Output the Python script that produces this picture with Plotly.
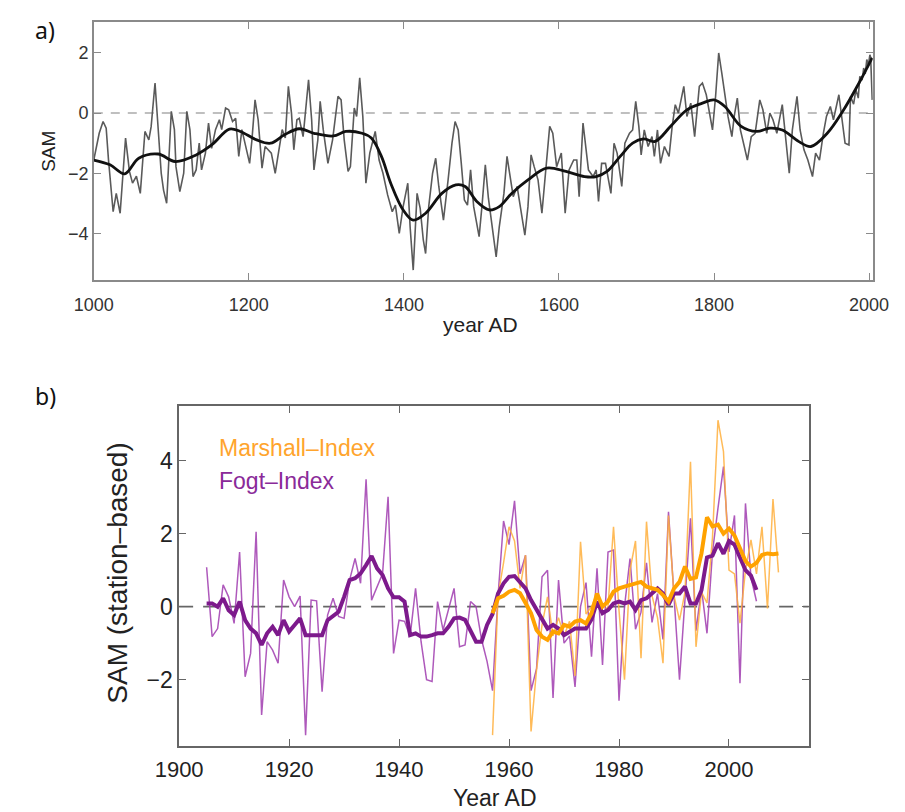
import plotly.graph_objects as go

# ---------------- Panel a data: SAM reconstruction ----------------
a_years = [1000,1007,1012,1016,1019,1025,1029,1034,1041,1046,1050,1055,1060,1066,1071,1074,1079,1083,1087,1090,
           1094,1100,1104,1106,1111,1116,1120,1124,1128,1132,1136,1139,1144,1148,1152,1157,1162,1165,1170,1174,
           1179,1183,1187,1191,1196,1201,1204,1208,1212,1217,1221,1225,1229,1234,1239,1243,1247,1251,1255,1258,
           1262,1265,1270,1277,1281,1284,1289,1292,1296,1302,1308,1315,1319,1323,1328,1331,1336,1339,1343,1347,
           1351,1356,1363,1368,1373,1379,1385,1389,1394,1399,1405,1408,1412,1417,1421,1425,1428,1432,1437,1441,
           1445,1451,1457,1462,1466,1470,1474,1478,1482,1486,1490,1497,1501,1505,1509,1514,1519,1523,1529,1533,
           1537,1541,1546,1551,1556,1560,1564,1568,1573,1578,1582,1588,1592,1597,1603,1608,1613,1619,1623,1626,
           1631,1635,1638,1644,1648,1651,1655,1660,1664,1667,1671,1675,1681,1685,1691,1695,1699,1703,1706,1710,
           1715,1720,1723,1727,1731,1736,1742,1746,1750,1754,1761,1765,1770,1775,1781,1785,1790,1793,1798,1802,
           1806,1810,1814,1818,1823,1826,1830,1834,1839,1843,1848,1853,1859,1863,1868,1872,1876,1881,1888,1892,
           1897,1901,1907,1911,1916,1921,1927,1931,1936,1941,1945,1950,1954,1961,1965,1969,1974,1976,1980,1983,
           1986,1988,1991,1993,1995,1997,1999,2001,2002,2004]
a_values = [-1.56,-0.67,-0.28,-0.5,-1.56,-3.28,-2.67,-3.33,-0.83,-1.94,-2.33,-2.1,-2.67,-0.61,-0.89,-0.45,1.0,-0.56,-2.0,-2.56,
            -3.0,0.06,-0.55,-1.78,-2.61,-2.0,0.06,-0.55,-2.11,-1.89,-1.0,-1.89,-1.33,-0.33,-1.17,-0.55,-0.22,-0.55,0.17,0.11,
            -0.28,-0.17,-1.44,-0.55,-1.17,-1.67,-0.89,0.44,-0.22,-1.83,-1.11,-1.22,-1.33,-2.0,-1.11,-0.55,-0.83,0.89,0.0,-1.22,
            -0.22,-0.17,-0.78,1.11,-0.22,-1.89,-0.89,0.39,-0.56,-1.67,-0.89,0.56,0.44,-0.89,-1.94,-1.78,0.17,-0.11,1.17,-0.11,
            -2.33,-1.33,-0.61,-1.56,-2.0,-2.72,-3.28,-3.06,-4.0,-3.11,-2.33,-3.78,-5.22,-2.67,-3.17,-4.22,-4.67,-3.11,-2.0,-1.5,
            -2.44,-3.56,-2.22,-1.0,-0.28,-0.56,-1.67,-2.89,-3.06,-1.89,-3.11,-4.11,-3.0,-1.72,-2.83,-3.78,-4.78,-3.78,-2.67,-1.44,
            -2.11,-2.78,-2.44,-3.22,-4.06,-3.11,-1.39,-1.78,-2.22,-3.33,-2.11,-0.44,-0.67,-1.78,-1.33,-3.33,-1.89,-1.56,-1.56,-2.78,
            -0.33,-1.33,-1.89,-2.11,-1.89,-2.94,-1.67,-1.67,-2.22,-2.67,-1.0,-1.33,-2.44,-1.0,-0.67,-0.56,0.39,-0.44,-1.39,-0.56,
            -1.11,-0.78,-1.44,-0.56,-1.67,-1.11,-1.44,-0.44,0.28,0.0,0.89,-0.11,0.33,-0.78,0.89,1.0,0.61,0.11,-0.56,0.56,
            2.0,1.33,0.61,-0.11,-0.78,-0.11,0.5,-0.56,-1.11,-1.56,-0.78,-0.67,0.44,0.11,-0.67,0.0,-0.22,-0.67,0.28,-0.78,
            -2.0,-0.56,0.56,-0.56,-1.22,-1.56,-2.11,-1.33,-1.56,-0.67,-0.11,0.22,-0.22,0.61,-0.22,-1.0,-1.06,0.55,0.3,0.78,
            0.5,1.22,1.1,1.5,1.3,1.78,1.6,1.94,1.85,0.44]

a_smooth_years = [1000,1021,1040,1058,1083,1105,1132,1152,1175,1189,1210,1228,1246,1265,1284,1309,1325,1346,1358,1371,
                  1383,1399,1412,1428,1449,1467,1479,1494,1510,1523,1539,1560,1584,1609,1633,1648,1662,1679,1695,1709,
                  1724,1744,1765,1785,1800,1814,1835,1855,1872,1888,1909,1925,1946,1966,1987,2004]
a_smooth_values = [-1.56,-1.72,-2.02,-1.5,-1.36,-1.61,-1.39,-1.06,-0.53,-0.61,-0.89,-1.0,-0.72,-0.52,-0.67,-0.76,-0.61,-0.67,-0.83,-1.44,
                   -2.33,-3.22,-3.56,-3.33,-2.67,-2.39,-2.44,-2.94,-3.22,-3.11,-2.67,-2.22,-1.83,-1.94,-2.11,-2.11,-1.94,-1.44,-1.0,-0.86,
                   -0.94,-0.44,0.11,0.33,0.44,0.22,-0.44,-0.61,-0.5,-0.56,-0.94,-1.11,-0.67,0.06,1.0,1.84]

a_xticks = [1000, 1200, 1400, 1600, 1800, 2000]
a_yticks = [-4, -2, 0, 2]

# ---------------- Panel b data: station-based SAM ----------------
fogt_years = list(range(1905, 2006))
fogt_values = [1.08,-0.82,-0.6,0.6,0.27,-0.46,1.5,-1.92,-1.28,2.05,
               -2.97,-0.96,-1.19,-1.55,0.73,0.27,0.0,0.29,-3.52,0.18,
               0.16,-2.33,-0.23,0.23,-0.27,-0.32,0.73,1.32,0.64,3.49,
               0.18,0.55,0.91,3.01,-1.28,-0.37,-0.4,-0.82,0.5,-0.96,
               -2.0,-2.05,0.14,-0.64,-0.05,0.5,-1.1,-1.05,0.14,0.0,
               -0.9,-1.5,-2.3,0.3,2.35,1.7,2.9,0.9,1.41,-2.3,
               -1.7,0.82,1.0,-2.5,0.73,-1.0,-0.8,-2.2,0.0,0.66,
               -1.37,1.05,-1.6,1.5,1.55,-2.58,0.0,1.32,-0.62,-0.15,
               1.2,-0.43,0.36,-0.9,2.6,0.4,-2.0,0.2,2.42,-0.66,
               0.5,-0.73,1.5,2.7,3.84,1.5,2.5,-2.1,2.83,0.8,
               0.15]
fogt_smooth = [0.09,0.09,0.0,0.23,-0.1,-0.23,0.14,-0.37,-0.6,-0.73,
               -1.05,-0.73,-0.55,-0.78,-0.37,-0.68,-0.5,-0.32,-0.78,-0.78,
               -0.78,-0.78,-0.37,-0.27,-0.14,0.27,0.73,0.78,0.91,1.14,
               1.39,1.05,0.87,0.5,0.26,0.26,0.14,-0.78,-0.73,-0.82,
               -0.82,-0.78,-0.73,-0.73,-0.55,-0.32,-0.3,-0.36,-0.64,-0.96,
               -0.96,-0.5,-0.2,0.36,0.64,0.82,0.84,0.68,0.5,0.18,
               -0.09,-0.37,-0.6,-0.5,-0.6,-0.78,-0.7,-0.6,-0.6,-0.6,
               -0.35,0.14,-0.18,-0.09,0.09,0.14,0.09,0.14,-0.09,0.18,
               0.23,0.36,0.5,0.36,0.05,0.36,0.36,0.55,0.09,0.09,
               0.45,1.35,1.4,1.74,1.45,1.8,1.7,1.35,1.0,0.85,
               0.46]

marshall_years = list(range(1957, 2010))
marshall_values = [-3.52,0.3,1.2,2.19,1.8,0.5,1.41,-3.42,-1.73,-0.5,
                   0.27,-0.8,-0.3,-0.8,-0.4,-1.9,1.78,-0.2,0.0,0.36,
                   -0.2,0.0,2.19,-0.1,-2.0,1.0,1.8,-1.41,2.33,0.3,
                   -0.3,-1.55,2.5,0.3,-0.37,0.4,3.97,-1.1,0.4,0.1,
                   1.9,5.11,4.25,1.0,0.9,-0.45,1.0,1.83,0.9,2.19,
                   -0.05,2.95,0.94]
marshall_smooth = [-0.18,0.23,0.3,0.41,0.46,0.37,0.1,-0.18,-0.64,-0.82,
                   -0.91,-0.68,-0.73,-0.5,-0.55,-0.41,-0.37,-0.46,-0.18,0.36,
                   0.0,0.14,0.41,0.5,0.55,0.6,0.64,0.68,0.55,0.5,
                   0.46,0.32,0.14,0.5,0.68,1.1,0.76,0.8,1.46,2.45,
                   2.2,2.25,2.0,2.14,1.95,1.6,1.25,1.1,1.2,1.42,
                   1.46,1.44,1.46]

b_xticks = [1900, 1920, 1940, 1960, 1980, 2000]
b_yticks = [-2, 0, 2, 4]

# ---------------- Figure ----------------
W, H = 905, 812
def px(x): return x / W
def py(y): return 1 - y / H

fig = go.Figure()

fig.add_trace(go.Scatter(x=a_years, y=a_values, mode="lines",
                         line=dict(color="#5a5a5a", width=1.6), xaxis="x", yaxis="y", showlegend=False))
fig.add_trace(go.Scatter(x=a_smooth_years, y=a_smooth_values, mode="lines", line_shape="spline",
                         line=dict(color="#111111", width=2.8), xaxis="x", yaxis="y", showlegend=False))

fig.add_trace(go.Scatter(x=fogt_years, y=fogt_values, mode="lines",
                         line=dict(color="rgba(160,60,175,0.85)", width=1.5), xaxis="x2", yaxis="y2", showlegend=False))
fig.add_trace(go.Scatter(x=marshall_years, y=marshall_values, mode="lines",
                         line=dict(color="rgba(255,175,60,0.85)", width=1.5), xaxis="x2", yaxis="y2", showlegend=False))
fig.add_trace(go.Scatter(x=fogt_years, y=fogt_smooth, mode="lines",
                         line=dict(color="#7d1a8c", width=4), xaxis="x2", yaxis="y2", showlegend=False))
fig.add_trace(go.Scatter(x=marshall_years, y=marshall_smooth, mode="lines",
                         line=dict(color="#ffa200", width=4), xaxis="x2", yaxis="y2", showlegend=False))

axis_common = dict(showgrid=False, zeroline=False, showline=True, mirror="ticks", ticks="inside")

fig.update_layout(
    width=W, height=H, margin=dict(l=0, r=0, t=0, b=0),
    paper_bgcolor="white", plot_bgcolor="white",
    xaxis=dict(**axis_common, domain=[px(73), px(888)], range=[1000, 2004.7], anchor="y",
               tickvals=a_xticks, linecolor="#8a8a8a", linewidth=1.5, tickcolor="#8a8a8a", ticklen=7,
               tickfont=dict(family="Liberation Sans, Arial", size=18, color="#333"), ticklabelstandoff=8),
    yaxis=dict(**axis_common, domain=[py(280), py(22)], range=[-5.55, 3.03], anchor="x",
               tickvals=a_yticks, linecolor="#8a8a8a", linewidth=1.5, tickcolor="#8a8a8a", ticklen=7,
               tickfont=dict(family="Liberation Sans, Arial", size=18, color="#333")),
    xaxis2=dict(**axis_common, domain=[px(162.3), px(821)], range=[1900, 2014.5], anchor="y2",
                tickvals=b_xticks, linecolor="#666", linewidth=1.5, tickcolor="#666", ticklen=7,
                tickfont=dict(family="Liberation Sans, Arial", size=22, color="#222"), ticklabelstandoff=3),
    yaxis2=dict(**axis_common, domain=[py(745.7), py(406)], range=[-3.81, 5.5], anchor="x2",
                tickvals=b_yticks, linecolor="#666", linewidth=1.5, tickcolor="#666", ticklen=7,
                tickfont=dict(family="Liberation Sans, Arial", size=23, color="#222")),
    shapes=[
        dict(type="line", xref="x domain", yref="y", x0=0, x1=1, y0=0, y1=0,
             line=dict(color="#aaaaaa", width=1.5, dash="9px,8px"), layer="below"),
        dict(type="line", xref="x2 domain", yref="y2", x0=0, x1=1, y0=0, y1=0,
             line=dict(color="#666666", width=1.8, dash="14px,10px"), layer="below"),
    ],
    annotations=[
        dict(text="a)", x=px(9), y=py(30), xref="paper", yref="paper", xanchor="left", yanchor="middle",
             showarrow=False, font=dict(family="Noto Sans", size=23, color="#111")),
        dict(text="b)", x=px(9), y=py(396), xref="paper", yref="paper", xanchor="left", yanchor="middle",
             showarrow=False, font=dict(family="Noto Sans", size=23, color="#111")),
        dict(text="SAM", x=px(26), y=py(151), xref="paper", yref="paper", xanchor="center", yanchor="middle",
             textangle=-90, showarrow=False, font=dict(family="Liberation Sans, Arial", size=19, color="#222")),
        dict(text="year AD", x=px(478), y=py(324), xref="paper", yref="paper", xanchor="center", yanchor="middle",
             showarrow=False, font=dict(family="Liberation Sans, Arial", size=21, color="#222")),
        dict(text="SAM (station–based)", x=px(97), y=py(573), xref="paper", yref="paper", xanchor="center",
             yanchor="middle", textangle=-90, showarrow=False,
             font=dict(family="Liberation Sans, Arial", size=28, color="#222")),
        dict(text="Year AD", x=px(493), y=py(798), xref="paper", yref="paper", xanchor="center", yanchor="middle",
             showarrow=False, font=dict(family="Liberation Sans, Arial", size=23, color="#222")),
        dict(text="Marshall–Index", x=px(202), y=py(448), xref="paper", yref="paper", xanchor="left",
             yanchor="middle", showarrow=False, font=dict(family="Liberation Sans, Arial", size=23, color="#ffa42c")),
        dict(text="Fogt–Index", x=px(202), y=py(481), xref="paper", yref="paper", xanchor="left",
             yanchor="middle", showarrow=False, font=dict(family="Liberation Sans, Arial", size=23, color="#8a2a99")),
    ],
)

fig.write_html("out.html")
